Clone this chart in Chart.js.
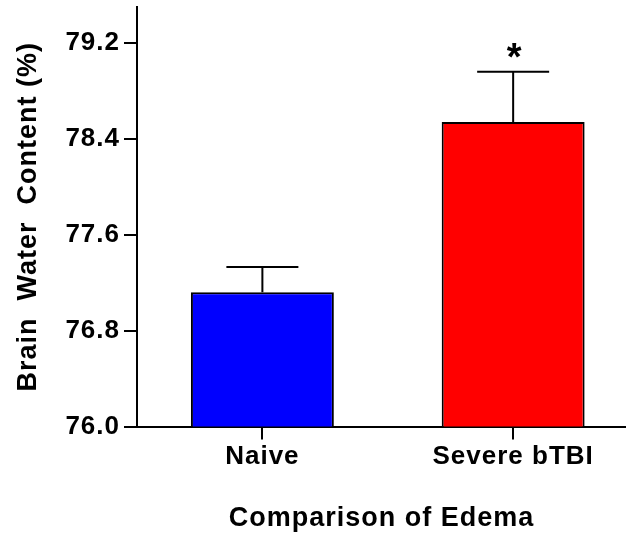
<!DOCTYPE html>
<html>
<head>
<meta charset="utf-8">
<script src="https://cdn.jsdelivr.net/npm/chart.js@4"></script>
<style>
  html, body { margin: 0; padding: 0; background: #fff; overflow: hidden; }
  canvas { display: block; }
</style>
</head>
<body>
<canvas id="c" width="626" height="533"></canvas>
<script>
// Group names, mean brain water content (%) and SEM
const categories = ['Naive', 'Severe bTBI'];
const means = [77.12, 78.54];
const sems = [0.21, 0.42];
const significance = ['', '*'];
const barColors = ['#0000FF', '#FF0000'];
const yTicks = [76.0, 76.8, 77.6, 78.4, 79.2];
const yMin = 76.0;
const yMax = 79.5;

const FONT = 'Liberation Sans, Arial, Helvetica, sans-serif';

// Slightly wider letter spacing for all chart text
const spacing = {
  id: 'spacing',
  beforeUpdate(chart) { chart.ctx.letterSpacing = '1px'; },
  beforeDraw(chart) { chart.ctx.letterSpacing = '1px'; }
};

// SEM whiskers (upper only) and significance markers
const errorBars = {
  id: 'errorBars',
  afterDatasetsDraw(chart) {
    const ctx = chart.ctx;
    const y = chart.scales.y;
    const meta = chart.getDatasetMeta(0);
    ctx.save();
    ctx.strokeStyle = '#000';
    ctx.fillStyle = '#000';
    ctx.lineWidth = 2;
    meta.data.forEach((bar, i) => {
      const top = y.getPixelForValue(means[i] + sems[i]);
      ctx.beginPath();
      ctx.moveTo(bar.x, bar.y);
      ctx.lineTo(bar.x, top);
      ctx.moveTo(bar.x - 36, top);
      ctx.lineTo(bar.x + 36, top);
      ctx.stroke();
      if (significance[i]) {
        ctx.letterSpacing = '0px';
        ctx.font = 'bold 38px ' + FONT;
        ctx.textAlign = 'center';
        ctx.textBaseline = 'alphabetic';
        ctx.fillText(significance[i], bar.x + 1, top - 2);
      }
    });
    ctx.restore();
  }
};

new Chart(document.getElementById('c'), {
  type: 'bar',
  data: {
    datasets: [{
      data: means.map((v, i) => ({ x: i, y: v })),
      backgroundColor: barColors,
      borderColor: '#000',
      borderWidth: 2,
      barPercentage: 0.57,
      categoryPercentage: 1
    }]
  },
  options: {
    responsive: false,
    animation: false,
    layout: { padding: { top: 7, left: 0, right: 0, bottom: 0 } },
    plugins: { legend: { display: false }, tooltip: { enabled: false } },
    scales: {
      x: {
        type: 'linear',
        min: -0.5,
        max: 1.45,
        offset: false,
        border: { display: true, color: '#000', width: 2 },
        grid: { offset: false, drawOnChartArea: false, drawTicks: true, tickLength: 13, color: '#000', lineWidth: 2 },
        afterBuildTicks(scale) { scale.ticks = categories.map((c, i) => ({ value: i })); },
        ticks: {
          color: '#000',
          padding: 1.5,
          maxRotation: 0,
          autoSkip: false,
          font: { family: FONT, size: 26, weight: 'bold' },
          callback: (v) => categories[v]
        },
        title: {
          display: true,
          text: 'Comparison of Edema',
          color: '#000',
          padding: { top: 0, bottom: 0 },
          font: { family: FONT, size: 27, weight: 'bold', lineHeight: 1.06 }
        },
        afterFit(scale) {
          scale.height = 106.5;
          scale.paddingLeft = 0;
          scale.paddingRight = 0;
        }
      },
      y: {
        min: yMin,
        max: yMax,
        border: { display: true, color: '#000', width: 2 },
        grid: { drawOnChartArea: false, drawTicks: true, tickLength: 13, color: '#000', lineWidth: 2 },
        afterBuildTicks(scale) { scale.ticks = yTicks.map(v => ({ value: v })); },
        ticks: {
          color: '#000',
          padding: 4,
          font: { family: FONT, size: 26, weight: 'bold' },
          callback: (v) => Number(v).toFixed(1)
        },
        title: {
          display: true,
          text: 'Brain  Water  Content (%)',
          color: '#000',
          padding: { top: 14, bottom: 0 },
          font: { family: FONT, size: 27, weight: 'bold', lineHeight: 1.06 }
        },
        afterFit(scale) {
          scale.width = 137;
          scale.paddingTop = 0;
          scale.paddingBottom = 0;
        }
      }
    }
  },
  plugins: [spacing, errorBars]
});
</script>
</body>
</html>
